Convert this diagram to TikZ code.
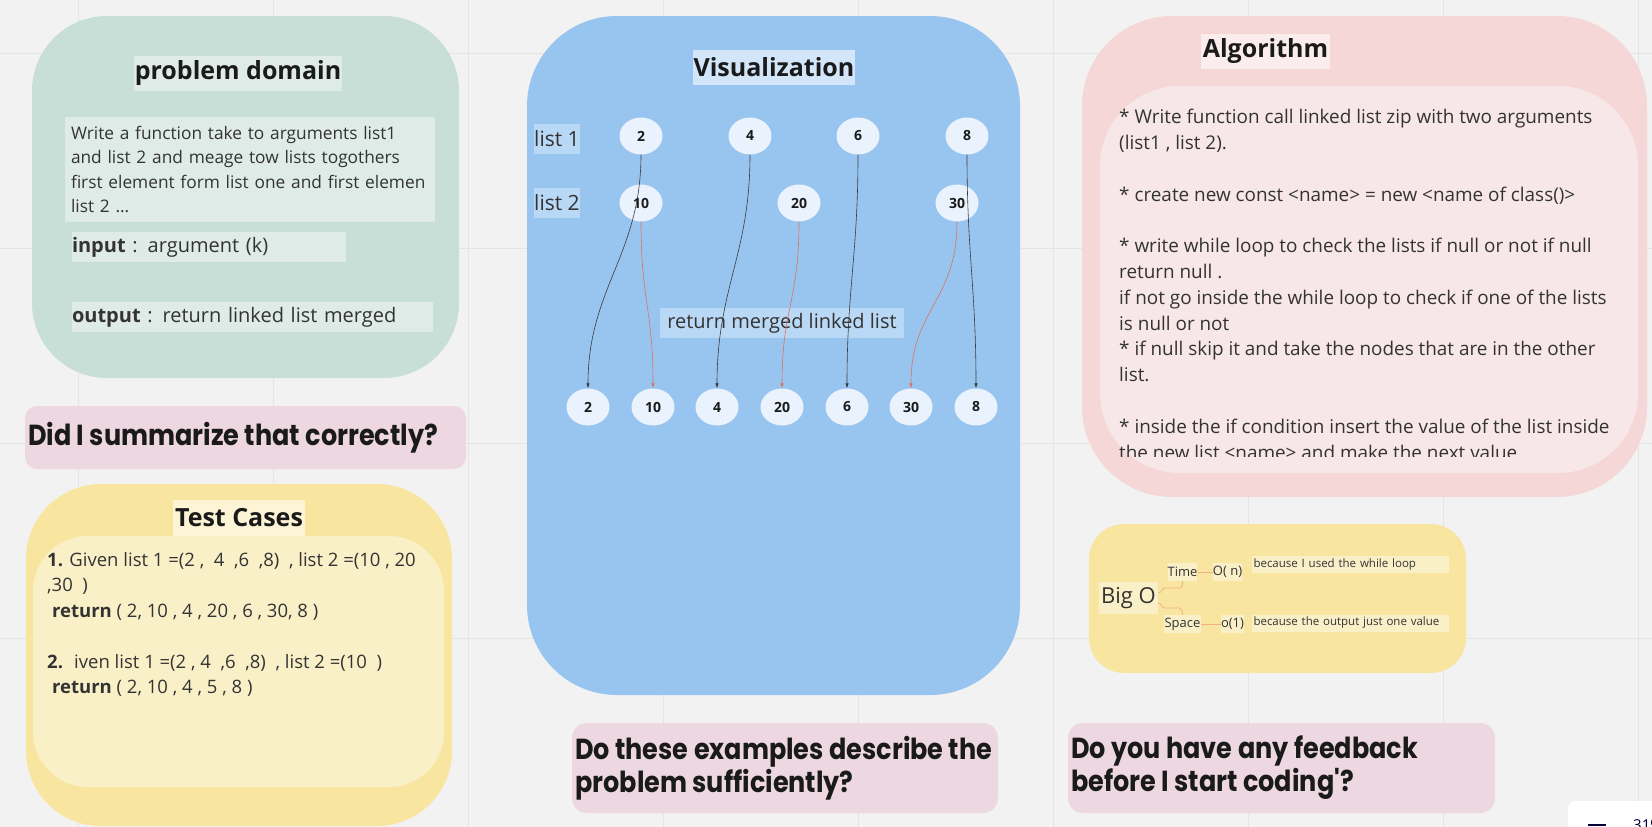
\documentclass[tikz,border=0pt]{standalone}
\usepackage{fontspec}
\setmainfont{Open Sans}
\newfontfamily\askfont{Poppins}[FakeStretch=0.88]
\usetikzlibrary{shapes.geometric,arrows.meta}

\definecolor{bgcol}{HTML}{F2F2F2}
\definecolor{gridcol}{HTML}{E4E4E4}
\definecolor{ink}{HTML}{1A1A1A}
\definecolor{inktwo}{HTML}{333333}
\definecolor{pdfill}{HTML}{C7DFD7}
\definecolor{pdhl}{HTML}{DEEBE6}
\definecolor{askfill}{HTML}{EDD8E1}
\definecolor{tcout}{HTML}{F8E6A0}
\definecolor{tcin}{HTML}{FAF0C8}
\definecolor{tchl}{HTML}{FCF4D4}
\definecolor{visfill}{HTML}{98C5F0}
\definecolor{vishl}{HTML}{D3E5F8}
\definecolor{lblhl}{HTML}{B9D8F5}
\definecolor{nodefill}{HTML}{EAF3FD}
\definecolor{algout}{HTML}{F5D7D8}
\definecolor{algin}{HTML}{F8E7E8}
\definecolor{alghl}{HTML}{FBEDED}
\definecolor{bigohl}{HTML}{FAF0C8}
\definecolor{braceline}{HTML}{F4B183}
\definecolor{darkarrow}{HTML}{3A3A3A}
\definecolor{redarrow}{HTML}{E07060}
\definecolor{navy}{HTML}{050038}

\begin{document}
\begin{tikzpicture}[x=1pt,y=-1pt,
    hl/.style={fill=#1,inner sep=0,text=inktwo},
    head/.style={font=\fontsize{25}{29}\selectfont\bfseries,text=ink},
    body/.style={font=\fontsize{17.3}{24.5}\selectfont,text=inktwo},
    ask/.style={font=\askfont\bfseries\fontsize{29}{33}\selectfont,text=ink,inner sep=0},
    vnode/.style={ellipse,fill=nodefill,minimum width=43,minimum height=37,inner sep=0,
        font=\fontsize{14}{16}\selectfont\bfseries,text=ink},
    small/.style={font=\fontsize{13}{15}\selectfont},
    why/.style={fill=bigohl,text=inktwo,font=\fontsize{11.5}{14}\selectfont,text width=194,
        inner xsep=1.5,inner ysep=0,minimum height=17,align=left},
    link/.style={draw=darkarrow,line width=0.6pt,-{Latex[length=5pt,width=3.5pt]}},
    rlink/.style={draw=redarrow,line width=0.6pt,-{Latex[length=5pt,width=3.5pt]}},
    bline/.style={draw=braceline,line width=0.8pt}]

% board
\fill[bgcol] (0,0) rectangle (1652,827);
\useasboundingbox (0,0) rectangle (1652,827);
\foreach \gx in {78,273,...,1638} \draw[gridcol] (\gx,0) -- (\gx,827);
\foreach \gy in {53,248,443,638} \draw[gridcol] (0,\gy) -- (1652,\gy);

% problem domain
\fill[pdfill,rounded corners=75] (32,16) rectangle (459,378);
\node[hl=pdhl,head,minimum width=208,minimum height=35] (pdtitle) at (238,73.5) {problem domain};
\node[hl=pdhl,body,text width=358,inner xsep=6,minimum height=105,align=left] (pddesc) at (250,169.5)
    {Write a function take to arguments list1\\and list 2 and meage tow lists togothers\\first element form list one and first elemen\\list 2 ...};
\node[hl=pdhl,font=\fontsize{20}{24}\selectfont,text width=274,minimum height=30,align=left] (pdin) at (209,247)
    {\textbf{input} : argument (k)};
\node[hl=pdhl,font=\fontsize{20}{24}\selectfont,text width=361,minimum height=30,align=left] (pdout) at (252.5,317)
    {\textbf{output} : return linked list merged};

\fill[askfill,rounded corners=12] (25,406) rectangle (466,469);
\node[ask,anchor=west] (askone) at (28,437.5) {Did I summarize that correctly?};

% test cases
\fill[tcout,rounded corners=75] (26,484) rectangle (452,826);
\fill[tcin,rounded corners=55] (33,536) rectangle (444,787);
\node[hl=tchl,head,minimum width=132,minimum height=36] (tctitle) at (239,518) {Test Cases};
\node[inner sep=0,anchor=north west,align=left,font=\fontsize{18.5}{25.5}\selectfont,text=inktwo] (tctext) at (47,552)
    {\textbf{1.} Given list 1 =(2 ,~ 4 ~,6 ~,8) ~, list 2 =(10 , 20\\
     ,30 ~)\\
     \hspace{5pt}\textbf{return} ( 2, 10 , 4 , 20 , 6 , 30, 8 )\\[25.5pt]
     \textbf{2.} ~iven list 1 =(2 , 4 ~,6 ~,8) ~, list 2 =(10 ~)\\
     \hspace{5pt}\textbf{return} ( 2, 10 , 4 , 5 , 8 )};

% visualization
\fill[visfill,rounded corners=90] (527,16) rectangle (1020,695);
\node[hl=vishl,head,minimum width=162,minimum height=35] (vistitle) at (774,67.5) {Visualization};
\node[hl=lblhl,font=\fontsize{21}{24}\selectfont,minimum width=46,minimum height=30] (lone) at (557,139) {list 1};
\node[hl=lblhl,font=\fontsize{21}{24}\selectfont,minimum width=46,minimum height=30] (ltwo) at (557,203) {list 2};
\foreach \v/\x in {2/641,4/750,6/858,8/967} \node[vnode] (a\v) at (\x,136) {\v};
\foreach \v/\x in {10/641,20/799,30/957} \node[vnode] (b\v) at (\x,203) {\v};
\foreach \v/\x [count=\i] in {2/588,10/653,4/717,20/782,6/847,30/911,8/976}
    \node[vnode] (m\i) at (\x,407) {\v};
\node[hl=lblhl,font=\fontsize{20}{24}\selectfont,minimum width=244,minimum height=30] (merged) at (782,323) {return merged linked list};
\foreach \s/\t in {a2/m1,a4/m3,a6/m5,a8/m7}
    \draw[link] (\s.south) .. controls +(0,100) and +(0,-100) .. (\t.north);
\foreach \s/\t in {b10/m2,b20/m4,b30/m6}
    \draw[rlink] (\s.south) .. controls +(0,80) and +(0,-80) .. (\t.north);

% algorithm
\fill[algout,rounded corners=90] (1082,16) rectangle (1647,497);
\fill[algin,rounded corners=80] (1100,86) rectangle (1638,473);
\node[hl=alghl,head,minimum width=129,minimum height=35] (algtitle) at (1265.5,51.5) {Algorithm};
\begin{scope}
\clip (1100,86) rectangle (1638,456);
\node[inner sep=0,anchor=north west,align=left,font=\fontsize{18.9}{25.8}\selectfont,text=inktwo] (algtext) at (1119,109)
    {* Write function call linked list zip with two arguments\\
     (list1 , list 2).\\[25.8pt]
     * create new const <name> = new <name of class()>\\[25.8pt]
     * write while loop to check the lists if null or not if null\\
     return null .\\
     if not go inside the while loop to check if one of the lists\\
     is null or not\\
     * if null skip it and take the nodes that are in the other\\
     list.\\[25.8pt]
     * inside the if condition insert the value of the list inside\\
     the new list <name> and make the next value};
\end{scope}

% big O
\fill[tcout,rounded corners=35] (1089,524) rectangle (1466,673);
\node[hl=bigohl,font=\fontsize{22}{26}\selectfont,minimum width=59,minimum height=32] (bigo) at (1128.5,598) {Big O};
\node[hl=bigohl,small,minimum width=29,minimum height=18] (time) at (1182.5,572) {Time};
\node[hl=bigohl,small,minimum width=29,minimum height=18] (timeo) at (1227.5,572) {O( n)};
\node[hl=bigohl,small,minimum width=37,minimum height=18] (space) at (1182.5,624) {Space};
\node[hl=bigohl,small,minimum width=23,minimum height=18] (spaceo) at (1232.5,624) {o(1)};
\node[why] (whytime) at (1350.5,564.5) {because I used the while loop};
\node[why] (whyspace) at (1350.5,623) {because the output just one value};
\draw[bline] ([yshift=5pt]bigo.east) .. controls +(4,0) and +(-4,0) .. ++(7,-5) -- ++(15,0) .. controls +(2,0) and +(0,4) .. (time.south);
\draw[bline] ([yshift=-5pt]bigo.east) .. controls +(4,0) and +(-4,0) .. ++(7,5) -- ++(14,0) .. controls +(2,0) and +(0,-4) .. (space.north);
\draw[bline] (time) -- (timeo);
\draw[bline] (space) -- (spaceo);

% questions
\fill[askfill,rounded corners=15] (572,723) rectangle (998,813);
\node[ask,anchor=west,align=left] (asktwo) at (575,768) {Do these examples describe the\\problem sufficiently?};
\fill[askfill,rounded corners=15] (1068,723) rectangle (1495,813);
\node[ask,anchor=west,align=left] (askthree) at (1071,768) {Do you have any feedback\\before I start coding\textquotesingle?};

% zoom widget
\fill[white,rounded corners=8] (1568,801) rectangle (1690,870);
\draw[navy,line width=2pt] (1588,825) -- (1606,825);
\node[inner sep=0,anchor=north west,font=\fontsize{15}{18}\selectfont,text=navy] (zoomlevel) at (1633,819) {31\%};
\end{tikzpicture}
\end{document}
